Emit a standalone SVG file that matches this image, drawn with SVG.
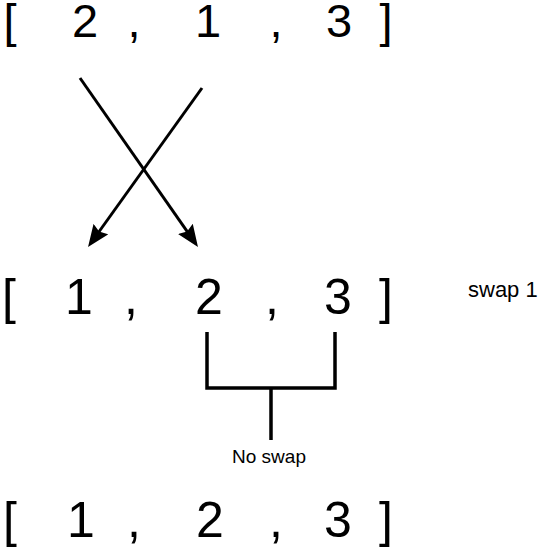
<svg xmlns="http://www.w3.org/2000/svg" width="542" height="547" viewBox="0 0 542 547">
<defs>
<style>
.big{font-family:"Liberation Sans",Arial,sans-serif;fill:#000;text-anchor:middle}
.lbl{font-family:"Liberation Sans",Arial,sans-serif;fill:#000}
.ln{stroke:#000;stroke-width:3;fill:none}
</style>
<marker id="ah" markerUnits="userSpaceOnUse" markerWidth="22" markerHeight="18" refX="14" refY="9" orient="auto">
<path d="M0,0 L22,9 L0,18 L3,9 z" fill="#000"/>
</marker>
</defs>
<rect width="542" height="547" fill="#fff"/>
<g id="row1" class="big" font-size="47">
<text x="10" y="37">[</text>
<text x="85" y="37">2</text>
<text x="134" y="37">,</text>
<text x="208" y="37">1</text>
<text x="276" y="37">,</text>
<text x="339" y="37">3</text>
<text x="386" y="37">]</text>
</g>
<g id="row2" class="big" font-size="50">
<text x="9" y="314">[</text>
<text x="79" y="314">1</text>
<text x="131" y="314">,</text>
<text x="209" y="314">2</text>
<text x="272" y="314">,</text>
<text x="338" y="314">3</text>
<text x="386" y="314">]</text>
</g>
<text id="swap1" class="lbl" x="468" y="297" font-size="22">swap 1</text>
<g id="row3" class="big" font-size="50">
<text x="10" y="537">[</text>
<text x="81" y="537">1</text>
<text x="134" y="537">,</text>
<text x="210" y="537">2</text>
<text x="276" y="537">,</text>
<text x="338" y="537">3</text>
<text x="386" y="537">]</text>
</g>
<g id="connectors">
<line class="ln" x1="80" y1="78" x2="193.4" y2="240.4" marker-end="url(#ah)"/>
<line class="ln" x1="202" y1="88" x2="92.7" y2="240.5" marker-end="url(#ah)"/>
<path d="M207,332 V388 H335 V332 M271,388 V440" stroke="#000" stroke-width="3.5" fill="none"/>
</g>
<text id="noswap" class="lbl" x="269" y="463" font-size="19" text-anchor="middle">No swap</text>
</svg>
